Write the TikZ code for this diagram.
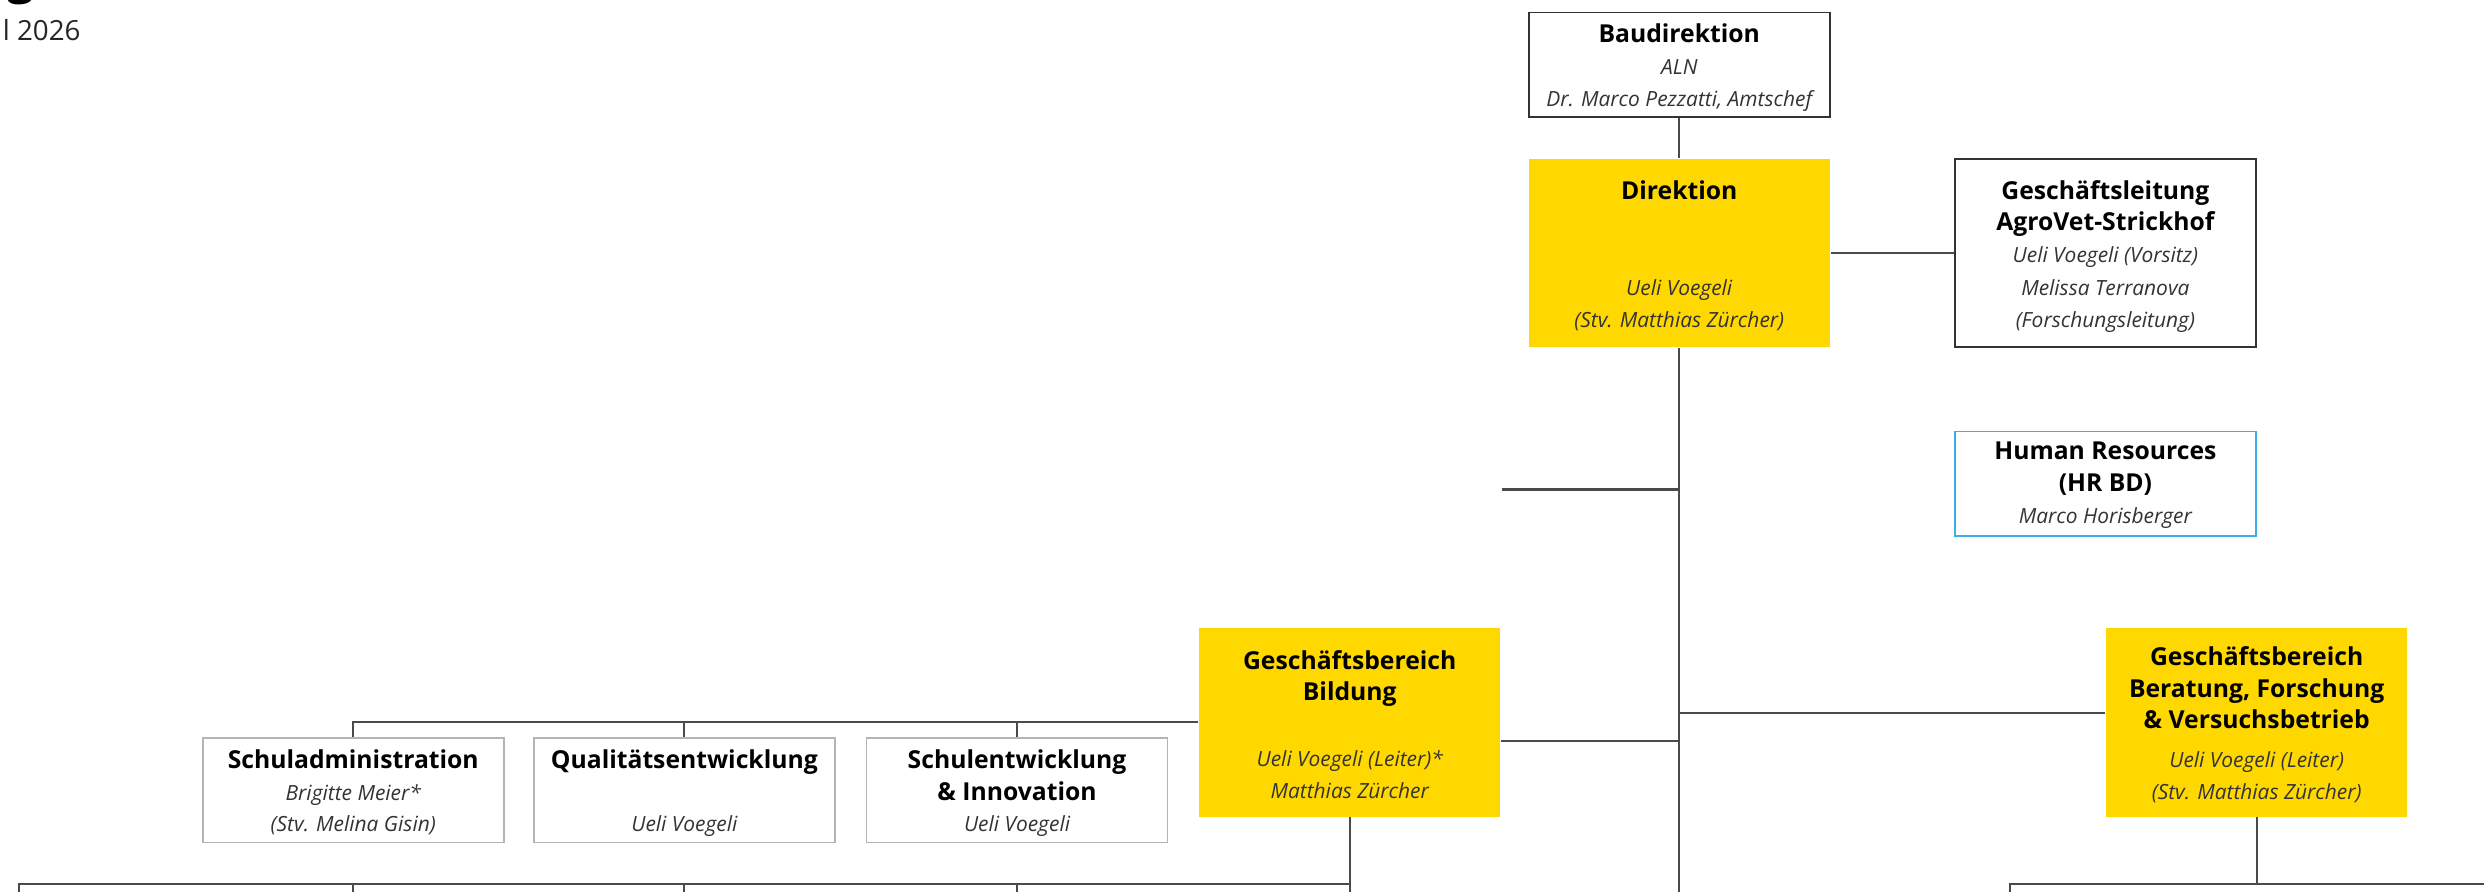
\documentclass[tikz,border=0pt]{standalone}
\usepackage{fontspec}
\setmainfont{Open Sans}
\definecolor{gelb}{HTML}{FFD800}
\definecolor{boxdark}{HTML}{333333}
\definecolor{boxgray}{HTML}{B4B4B4}
\definecolor{hrblue}{HTML}{3AAEE6}
\definecolor{linegray}{HTML}{4A4A4A}
\definecolor{namegray}{HTML}{333333}
\begin{document}
\begin{tikzpicture}[x=1pt,y=-1pt,
  base/.style={inner sep=0pt, minimum width=190pt, line width=1pt},
  topbox/.style={base, draw=boxdark, fill=white},
  ybox/.style={base, fill=gelb, draw=none, minimum height=119pt},
  subbox/.style={base, draw=boxgray, fill=white, minimum height=66pt},
  hrbox/.style={base, draw=hrblue, fill=white, minimum height=66pt},
  ttl/.style={anchor=base, inner sep=0pt, font=\fontsize{15.6}{18}\selectfont\bfseries, text=black},
  nm/.style={anchor=base, inner sep=0pt, font=\fontsize{13.2}{15}\selectfont\itshape, text=namegray},
  conn/.style={draw=linegray, line width=1.3pt}]
\useasboundingbox (0,0) rectangle (1568,563);
\clip (0,0) rectangle (1568,563);

% header fragments
\node[anchor=base, inner sep=0pt, font=\fontsize{30}{36}\selectfont\bfseries, text=black] (titleg) at (13.5,-4) {g};
\node[anchor=base east, inner sep=0pt, font=\fontsize{17.5}{20}\selectfont, text=black!85] (datum) at (51,25.7) {l 2026};

% boxes
\node[topbox, minimum height=66pt] (baud) at (1060,41) {};
\node[ybox] (dir) at (1060,159.7) {};
\node[topbox, minimum height=119pt] (gl) at (1329,159.7) {};
\node[hrbox] (hr) at (1329,305.5) {};
\node[ybox] (bild) at (852,456) {};
\node[ybox] (berat) at (1424.5,456) {};
\node[subbox] (schul) at (223,498.7) {};
\node[subbox] (qual) at (432,498.7) {};
\node[subbox] (sentw) at (642,498.7) {};

% texts
\node[ttl] (baudT) at (1060,27) {Baudirektion};
\node[nm] (baudA) at (1060,47.3) {ALN};
\node[nm] (baudB) at (1060,67.5) {Dr. Marco Pezzatti, Amtschef};

\node[ttl] (dirT) at (1060,125.8) {Direktion};
\node[nm] (dirA) at (1060,186.5) {Ueli Voegeli};
\node[nm] (dirB) at (1060,206.5) {(Stv. Matthias Zürcher)};

\node[ttl] (glT) at (1329,125.8) {Geschäftsleitung};
\node[ttl] (glT2) at (1329,145.6) {AgroVet-Strickhof};
\node[nm] (glA) at (1329,166) {Ueli Voegeli (Vorsitz)};
\node[nm] (glB) at (1329,186.5) {Melissa Terranova};
\node[nm] (glC) at (1329,206.5) {(Forschungsleitung)};

\node[ttl] (hrT) at (1329,290) {Human Resources};
\node[ttl] (hrT2) at (1329,310.2) {(HR BD)};
\node[nm] (hrA) at (1329,330.4) {Marco Horisberger};

\node[ttl] (bildT) at (852,422.6) {Geschäftsbereich};
\node[ttl] (bildT2) at (852,442.3) {Bildung};
\node[nm] (bildA) at (852,483.6) {Ueli Voegeli (Leiter)*};
\node[nm] (bildB) at (852,504) {Matthias Zürcher};

\node[ttl] (beratT) at (1424.5,419.8) {Geschäftsbereich};
\node[ttl] (beratT2) at (1424.5,440.2) {Beratung, Forschung};
\node[ttl] (beratT3) at (1424.5,460) {\& Versuchsbetrieb};
\node[nm] (beratA) at (1424.5,484.4) {Ueli Voegeli (Leiter)};
\node[nm] (beratB) at (1424.5,504.6) {(Stv. Matthias Zürcher)};

\node[ttl] (schulT) at (223,485) {Schuladministration};
\node[nm] (schulA) at (223,505) {Brigitte Meier*};
\node[nm] (schulB) at (223,525) {(Stv. Melina Gisin)};

\node[ttl] (qualT) at (432,485) {Qualitätsentwicklung};
\node[nm] (qualA) at (432,525) {Ueli Voegeli};

\node[ttl] (sentwT) at (642,485) {Schulentwicklung};
\node[ttl] (sentwT2) at (642,505) {\& Innovation};
\node[nm] (sentwA) at (642,525) {Ueli Voegeli};

% free ends
\coordinate (trunkEnd) at (1060,566);
\coordinate (stubL) at (948,309);
\coordinate (botL) at (12,558);
\coordinate (botLd) at (12,566);
\coordinate (botR) at (1269,558);
\coordinate (botRd) at (1269,566);
\coordinate (botRe) at (1570,558);
\path ([yshift=-12pt]bild.east) coordinate (bildR);
\path ([yshift=6pt]berat.west) coordinate (beratL);

% connectors
\draw[conn] (baud.south) -- (dir.north);
\draw[conn] (dir.east) -- (gl.west);
\draw[conn] (dir.south) -- (trunkEnd);
\draw[conn] (stubL) -- (stubL -| dir.south);
\draw[conn] (bildR) -- (bildR -| dir.south);
\draw[conn] (beratL) -- (beratL -| dir.south);
\draw[conn] (bild.west) -- (bild.west -| schul.north) -- (schul.north);
\draw[conn] (bild.west -| qual.north) -- (qual.north);
\draw[conn] (bild.west -| sentw.north) -- (sentw.north);
\draw[conn] (bild.south) -- (bild.south |- trunkEnd);
\draw[conn] (botLd) -- (botL) -- (botL -| bild.south);
\draw[conn] (schul.south |- botL) -- (schul.south |- botLd);
\draw[conn] (qual.south |- botL) -- (qual.south |- botLd);
\draw[conn] (sentw.south |- botL) -- (sentw.south |- botLd);
\draw[conn] (berat.south) -- (berat.south |- botL);
\draw[conn] (botRd) -- (botR) -- (botRe);
\end{tikzpicture}
\end{document}
